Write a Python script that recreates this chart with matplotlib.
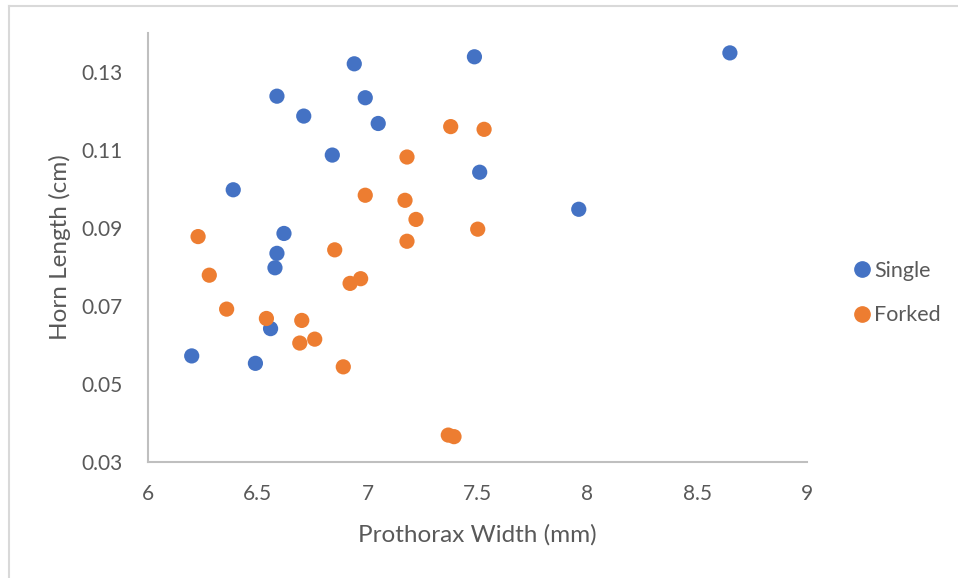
import matplotlib
matplotlib.use("Agg")
import matplotlib.pyplot as plt
from matplotlib.lines import Line2D

# Prothorax width (mm) and horn length (cm) for beetles with single horns
single_width = [6.939, 7.486, 6.587, 6.989, 6.709, 7.048, 6.839, 6.388, 6.619,
                7.510, 7.961, 8.649, 6.587, 6.578, 6.558, 6.199, 6.489]
single_horn = [0.1321, 0.1339, 0.1238, 0.1234, 0.1187, 0.1168, 0.1087, 0.0998, 0.0886,
               0.1043, 0.0948, 0.1349, 0.0835, 0.0798, 0.0642, 0.0572, 0.0553]

# ... and for beetles with forked horns
forked_width = [7.378, 7.530, 7.179, 6.989, 7.170, 7.220, 7.501, 7.179, 6.228, 6.850,
                6.279, 6.968, 6.920, 6.358, 6.539, 6.700, 6.759, 6.691, 6.889, 7.367, 7.393]
forked_horn = [0.1160, 0.1153, 0.1082, 0.0984, 0.0971, 0.0922, 0.0897, 0.0866, 0.0878, 0.0844,
               0.0779, 0.0770, 0.0758, 0.0692, 0.0668, 0.0663, 0.0615, 0.0605, 0.0544, 0.0369, 0.0365]

x_ticks = [6, 6.5, 7, 7.5, 8, 8.5, 9]
x_tick_labels = ["6", "6.5", "7", "7.5", "8", "8.5", "9"]
y_ticks = [0.03, 0.05, 0.07, 0.09, 0.11, 0.13]
y_tick_labels = ["0.03", "0.05", "0.07", "0.09", "0.11", "0.13"]

BLUE = "#4472C4"
ORANGE = "#ED7D31"
TEXT = "#595959"
AXIS = "#BFBFBF"

plt.rcParams["font.family"] = ["Lato", "DejaVu Sans"]

W, H = 958, 578
fig = plt.figure(figsize=(W / 100, H / 100), dpi=100)
fig.patch.set_facecolor("white")

# chart-area border (top and left edges)
fig.add_artist(Line2D([8.5 / W, 1.0], [1 - 5.5 / H, 1 - 5.5 / H], color="#D9D9D9", lw=1.5))
fig.add_artist(Line2D([8.5 / W, 8.5 / W], [0.0, 1 - 5.5 / H], color="#D9D9D9", lw=1.5))

left, right, bottom, top = 148, 807, 462, 33
ax = fig.add_axes([left / W, 1 - bottom / H, (right - left) / W, (bottom - top) / H])

ax.scatter(single_width, single_horn, s=120, color=BLUE, edgecolors="none", zorder=3)
ax.scatter(forked_width, forked_horn, s=120, color=ORANGE, edgecolors="none", zorder=3)

ax.set_xlim(6, 9)
ax.set_ylim(0.03, 0.14)
ax.set_xticks(x_ticks)
ax.set_xticklabels(x_tick_labels)
ax.set_yticks(y_ticks)
ax.set_yticklabels(y_tick_labels)
ax.tick_params(length=0, labelsize=15, labelcolor=TEXT)
ax.tick_params(axis="x", pad=16)
ax.tick_params(axis="y", pad=18)

for side in ("top", "right"):
    ax.spines[side].set_visible(False)
for side in ("left", "bottom"):
    ax.spines[side].set_color(AXIS)
    ax.spines[side].set_linewidth(1.5)

ax.set_xlabel("Prothorax Width (mm)", fontsize=17.5, color=TEXT, labelpad=14)
ax.set_ylabel("Horn Length (cm)", fontsize=17.5, color=TEXT, labelpad=8)

handles = [
    Line2D([], [], marker="o", linestyle="none", markersize=11, color=BLUE, label="Single"),
    Line2D([], [], marker="o", linestyle="none", markersize=11, color=ORANGE, label="Forked"),
]
fig.legend(handles=handles, loc="center left", bbox_to_anchor=(843 / W, 1 - 293 / H),
           frameon=False, fontsize=15.5, labelcolor=TEXT, handletextpad=0.05,
           handlelength=1.0, labelspacing=1.12, borderaxespad=0)

fig.savefig("out.png", dpi=100, facecolor="white")
